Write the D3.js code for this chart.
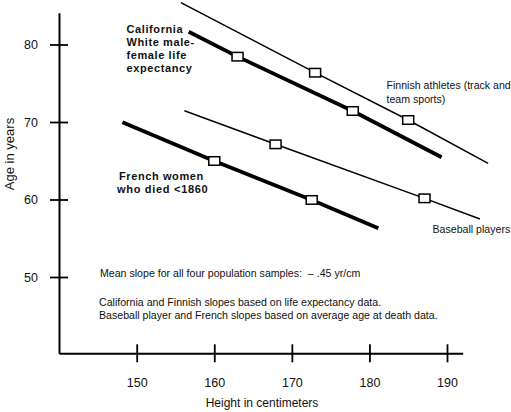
<!DOCTYPE html>
<html>
<head>
<meta charset="utf-8">
<script src="https://cdn.jsdelivr.net/npm/d3@7/dist/d3.min.js"></script>
<style>
  html, body { margin: 0; padding: 0; background: #fff; }
  svg { display: block; font-family: "Liberation Sans", Arial, Helvetica, sans-serif; }
  text { white-space: pre; }
</style>
</head>
<body>
<svg id="chart" width="511" height="412"></svg>
<script>
// ---- Data ----
const xTicks = [150, 160, 170, 180, 190];
const yTicks = [50, 60, 70, 80];

const seriesNames = ["Finnish athletes", "California", "Baseball players", "French women"];
const seriesWeight = ["thin", "thick", "thin", "thick"];

// line start / marker / marker / line end
const finnishX   = [155.7, 173.0, 185.0, 195.3];
const finnishY   = [85.4, 76.36, 70.26, 64.67];
const californiaX = [156.7, 163.0, 177.85, 189.3];
const californiaY = [81.65, 78.43, 71.42, 65.45];
const baseballX  = [156.15, 167.9, 187.1, 194.25];
const baseballY  = [71.46, 67.12, 60.15, 57.48];
const frenchX    = [148.16, 160.0, 172.56, 181.15];
const frenchY    = [69.96, 64.97, 59.94, 56.28];

const allX = [finnishX, californiaX, baseballX, frenchX];
const allY = [finnishY, californiaY, baseballY, frenchY];

const svg = d3.select("#chart");

const x = d3.scaleLinear().domain([150, 190]).range([136.7, 447]);
const y = d3.scaleLinear().domain([50, 80]).range([277, 44.5]);
const xMin = x.invert(59), xMax = x.invert(462.7);
const yMin = y.invert(353.3), yMax = y.invert(12.7);
x.domain([xMin, xMax]).range([59, 462.7]);
y.domain([yMin, yMax]).range([353.3, 12.7]);

// axes
const yAxis = svg.append("g")
  .attr("transform", "translate(59,0)")
  .call(d3.axisLeft(y).tickValues(yTicks).tickSize(9).tickSizeOuter(0).tickPadding(12).tickFormat(d3.format("d")));
yAxis.selectAll(".tick line").attr("x1", 9).attr("x2", -9).attr("stroke-width", 1.8);
yAxis.select(".domain").attr("stroke-width", 2);
yAxis.selectAll("text").attr("font-size", 12.5).attr("fill", "#111");

const xAxis = svg.append("g")
  .attr("transform", "translate(0,353.3)")
  .call(d3.axisBottom(x).tickValues(xTicks).tickSize(9).tickSizeOuter(0).tickPadding(16).tickFormat(d3.format("d")));
xAxis.selectAll(".tick line").attr("y1", -9).attr("y2", 9).attr("stroke-width", 1.8);
xAxis.select(".domain").attr("stroke-width", 2);
xAxis.selectAll("text").attr("font-size", 12.5).attr("fill", "#111");

svg.append("text").attr("x", 262).attr("y", 407)
  .attr("text-anchor", "middle").attr("font-size", 12).attr("fill", "#111")
  .text("Height in centimeters");
svg.append("text").attr("transform", "translate(13.5,154) rotate(-90)")
  .attr("text-anchor", "middle").attr("font-size", 13).attr("fill", "#111")
  .text("Age in years");

// lines
const lineGen = d3.line().x(d => x(d[0])).y(d => y(d[1]));
allX.forEach((xs, i) => {
  const pts = xs.map((v, j) => [v, allY[i][j]]);
  svg.append("path")
    .attr("d", lineGen(pts))
    .attr("fill", "none")
    .attr("stroke", "#000")
    .attr("stroke-width", seriesWeight[i] === "thick" ? 3.8 : 1.5);
});
// markers
allX.forEach((xs, i) => {
  [1, 2].forEach(j => {
    svg.append("rect")
      .attr("x", x(xs[j]) - 5.5).attr("y", y(allY[i][j]) - 4.25)
      .attr("width", 11).attr("height", 8.5)
      .attr("fill", "#fff").attr("stroke", "#000").attr("stroke-width", 1.5);
  });
});

// annotations
function textBlock(lines, x0, y0, lh, opts) {
  const t = svg.append("text").attr("font-size", opts.size).attr("fill", "#111")
    .attr("font-weight", opts.bold ? "bold" : "normal")
    .attr("letter-spacing", opts.ls || 0);
  lines.forEach((s, k) => {
    t.append("tspan").attr("x", x0).attr("y", y0 + k * lh).text(s);
  });
}
textBlock(["California", "White male-", "female life", "expectancy"], 126.5, 33, 13, {size: 11, bold: true, ls: 0.6});
textBlock(["French women"], 119, 180, 13, {size: 11, bold: true, ls: 0.6});
textBlock(["who died <1860"], 117, 193, 13, {size: 11, bold: true, ls: 0.7});
textBlock(["Finnish athletes (track and", "team sports)"], 386.5, 89, 14, {size: 10.6});
textBlock(["Baseball players"], 432.5, 233, 14, {size: 10.6});
textBlock(["Mean slope for all four population samples:  \u2013 .45 yr/cm"], 100, 277, 13, {size: 10.6});
textBlock(["California and Finnish slopes based on life expectancy data.",
           "Baseball player and French slopes based on average age at death data."], 99, 306, 13, {size: 10.6});
</script>
</body>
</html>
